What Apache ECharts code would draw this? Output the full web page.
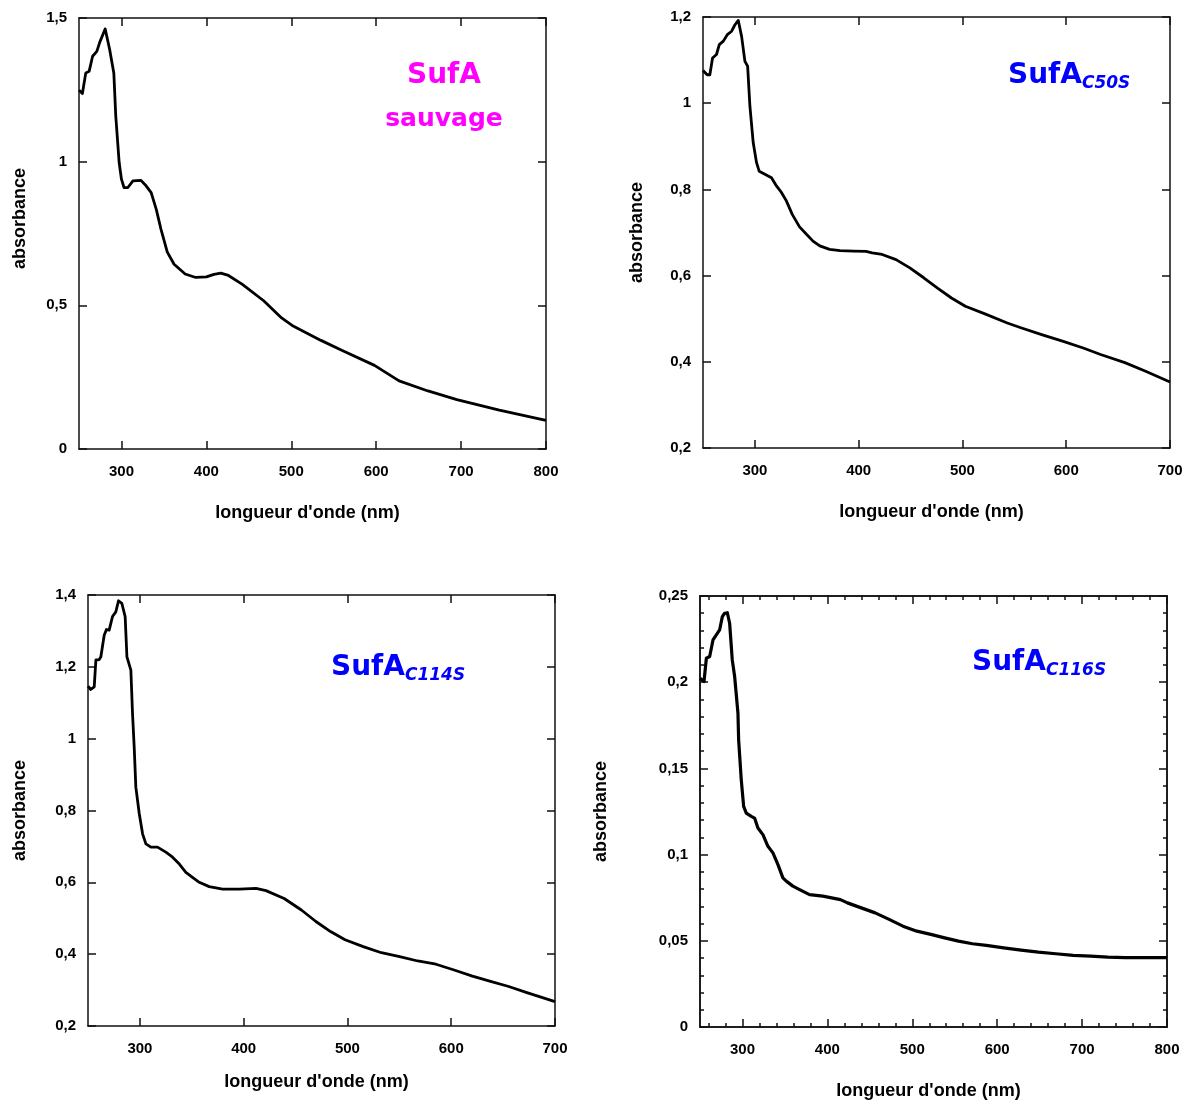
<!DOCTYPE html>
<html><head><meta charset="utf-8">
<script src="https://cdn.jsdelivr.net/npm/echarts@6/dist/echarts.min.js"></script>
<style>html,body{margin:0;padding:0;background:#fff}#c{width:1184px;height:1101px}</style>
</head><body><div id="c"></div>
<script>
// ---- data ----
const wl1 = [250,254,258,262,266,271,274.5,280.8,286,291,293.3,297.3,300,303,307.6,313.5,323,329,335,341,346.5,354,362,375,387.5,400,409,417,426,442,467.5,488.6,501,535,560,598,627,661,695,745,800];
const abs1 = [1.249,1.237,1.309,1.315,1.367,1.384,1.416,1.462,1.392,1.309,1.159,0.997,0.939,0.91,0.91,0.933,0.935,0.916,0.892,0.834,0.765,0.685,0.643,0.609,0.597,0.599,0.608,0.612,0.604,0.574,0.516,0.456,0.43,0.378,0.343,0.291,0.237,0.202,0.172,0.135,0.1];

const wl2 = [250,254,256.6,259.2,263,265.7,269.6,273.4,277.6,280.8,284,287.2,290.4,293,295.2,298.4,301.6,304.2,309.6,316,320.8,325,330,336,343,349.7,356,362.5,372,382,395,407,413,422.6,436,449.3,462.7,476,489.4,502.8,522.9,543.2,556.3,576.3,596.4,616.4,633.1,656.5,676.5,700];
const abs2 = [1.076,1.066,1.066,1.105,1.113,1.136,1.144,1.159,1.167,1.182,1.192,1.155,1.097,1.086,0.993,0.908,0.862,0.842,0.835,0.827,0.808,0.795,0.775,0.742,0.713,0.696,0.68,0.669,0.661,0.658,0.657,0.656,0.653,0.649,0.637,0.618,0.595,0.571,0.548,0.529,0.51,0.49,0.479,0.463,0.448,0.432,0.417,0.398,0.378,0.353];

const wl3 = [250,252.7,256,257.6,260.8,262.4,265.6,267.8,270.4,273.6,276.8,279.4,282.6,285.8,287.5,291.3,292.9,294.5,296.1,299.4,302.6,305.8,310.6,317,325,331.5,338,344.3,350.7,357.2,366.8,379.7,395.8,411.9,421.5,439,455.6,469.6,483.7,497.7,515.2,532.7,550.3,567.8,585.3,602.8,620.4,637.9,655.4,672.9,700];
const abs3 = [1.146,1.137,1.144,1.219,1.22,1.228,1.288,1.304,1.302,1.34,1.353,1.384,1.377,1.34,1.228,1.191,1.07,0.977,0.865,0.791,0.735,0.707,0.698,0.698,0.684,0.67,0.651,0.628,0.614,0.6,0.588,0.581,0.581,0.583,0.577,0.555,0.523,0.491,0.463,0.44,0.421,0.404,0.393,0.381,0.372,0.356,0.339,0.324,0.31,0.293,0.268];

const wl4 = [250,254.7,257.5,261.4,265.3,269.2,273.1,276.3,279,282.2,284.9,288,290.8,294.7,295.5,298.6,301.4,304.5,310.4,314.3,318.2,324.1,330,335.9,341.8,347.6,351.6,359.4,367.3,379,394.7,415.4,423.6,439.9,456.3,472.7,489,505.4,521.8,538.1,554.5,570.9,587.2,607.7,628.1,648.6,669,689.5,710,730.4,750.9,771.3,800];
const abs4 = [0.2023,0.2004,0.2139,0.2149,0.2245,0.2274,0.2303,0.238,0.24,0.2403,0.2342,0.2129,0.2033,0.182,0.1666,0.1434,0.128,0.1241,0.1222,0.1212,0.1154,0.1116,0.1048,0.101,0.0942,0.0865,0.0846,0.0817,0.0797,0.0768,0.0759,0.0739,0.072,0.0691,0.0662,0.0624,0.0585,0.0556,0.0537,0.0517,0.0498,0.0483,0.0473,0.0459,0.0446,0.0434,0.0425,0.0415,0.0411,0.0405,0.0402,0.0402,0.0402];

// tick values
const xTicks1 = [300,400,500,600,700,800];
const yTicks1 = [0,0.5,1,1.5];
const xTicks2 = [300,400,500,600,700];
const yTicks2 = [0.2,0.4,0.6,0.8,1,1.2];
const xTicks3 = [300,400,500,600,700];
const yTicks3 = [0.2,0.4,0.6,0.8,1,1.2,1.4];
const xTicks4 = [300,400,500,600,700,800];
const yTicks4 = [0,0.05,0.1,0.15,0.2,0.25];
const xMinor4 = [260,280,320,340,360,380,420,440,460,480,520,540,560,580,620,640,660,680,720,740,760,780];
const yMinor4 = [0.01,0.02,0.03,0.04,0.06,0.07,0.08,0.09,0.11,0.12,0.13,0.14,0.16,0.17,0.18,0.19,0.21,0.22,0.23,0.24];

// texts
const xName = "longueur d'onde (nm)";
const yName = "absorbance";
const titles = [
  {main:'SufA', line2:'sauvage', sub:''},
  {main:'SufA', sub:'C50S'},
  {main:'SufA', sub:'C114S'},
  {main:'SufA', sub:'C116S'}
];

// ---- layout / style ----
const FONT = '"Liberation Sans", Arial, sans-serif';
const TFONT = '"Comic Sans MS", "DejaVu Sans", sans-serif';
const AX = '#111';
const grids = [
  {left:79, top:18, width:467, height:431},
  {left:703, top:17, width:467, height:431},
  {left:88, top:595, width:467, height:431},
  {left:700, top:596, width:467, height:431}
];
const panels = [
  {wl:wl1, ab:abs1, xr:[250,800], yr:[0,1.5], xt:xTicks1, yt:yTicks1, yGap:50, yPad:30, xGap:55},
  {wl:wl2, ab:abs2, xr:[250,700], yr:[0.2,1.2], xt:xTicks2, yt:yTicks2, yGap:57, yPad:0, xGap:55},
  {wl:wl3, ab:abs3, xr:[250,700], yr:[0.2,1.4], xt:xTicks3, yt:yTicks3, yGap:59, yPad:0, xGap:47},
  {wl:wl4, ab:abs4, xr:[250,800], yr:[0,0.25], xt:xTicks4, yt:yTicks4, yGap:90, yPad:0, xGap:55, xm:xMinor4, ym:yMinor4}
];

function fmt(v){ return String(+(+v).toFixed(3)).replace('.', ','); }

const xAxes = [], yAxes = [], series = [];
const lab = {show:true, color:'#000', fontSize:15, fontWeight:'bold', fontFamily:FONT, formatter:fmt};

function mkAxis(gi, pos, range, ticks, len, label, name, gap, pad, isX){
  const a = {
    type:'value', gridIndex:gi, position:pos, min:range[0], max:range[1],
    axisLine:{show:true, onZero:false, lineStyle:{color:AX, width:1.5}},
    axisTick:{show:true, inside:true, length:len, customValues:ticks, lineStyle:{color:AX, width:1.5}},
    axisLabel: label ? Object.assign({customValues:ticks, margin: isX?15:12}, lab) : {show:false},
    splitLine:{show:false}, minorTick:{show:false}, axisPointer:{show:false}
  };
  if (name) {
    a.name = name; a.nameLocation = 'middle'; a.nameGap = gap;
    a.nameTextStyle = {color:'#000', fontSize:18, fontWeight:'bold', fontFamily:FONT,
      padding: isX ? [0,10,0,0] : [0,0,0,pad]};
  }
  return a;
}

panels.forEach((p, gi) => {
  const xi = xAxes.length, yi = yAxes.length;
  xAxes.push(mkAxis(gi,'bottom',p.xr,p.xt,8,true,xName,p.xGap,0,true));
  xAxes.push(mkAxis(gi,'top',p.xr,p.xt,8,false));
  yAxes.push(mkAxis(gi,'left',p.yr,p.yt,8,true,yName,p.yGap,p.yPad,false));
  yAxes.push(mkAxis(gi,'right',p.yr,p.yt,8,false));
  if (p.xm) {
    xAxes.push(mkAxis(gi,'bottom',p.xr,p.xm,4,false));
    xAxes.push(mkAxis(gi,'top',p.xr,p.xm,4,false));
    yAxes.push(mkAxis(gi,'left',p.yr,p.ym,4,false));
    yAxes.push(mkAxis(gi,'right',p.yr,p.ym,4,false));
  }
  series.push({
    type:'line', xAxisIndex:xi, yAxisIndex:yi,
    data: p.wl.map((w,i)=>[w,p.ab[i]]),
    showSymbol:false, symbol:'none', smooth:false,
    lineStyle:{color:'#000', width: gi===3 ? 3.2 : 2.8, join:'round'},
    itemStyle:{color:'#000'}
  });
});

const tMain = {fontSize:28, fontWeight:'bold', fontFamily:TFONT, padding:[0,0,2,0], verticalAlign:'bottom'};
const tSub = {fontSize:17, fontWeight:'bold', fontStyle:'italic', fontFamily:TFONT, verticalAlign:'bottom'};
function subTitle(x, y, t, color){
  return {type:'text', x:x, y:y, silent:true, style:{
    text:'{a|' + t.main + '}{b|' + t.sub + '}', align:'left', verticalAlign:'bottom',
    rich:{a:Object.assign({fill:color}, tMain), b:Object.assign({fill:color}, tSub)}
  }};
}
const graphic = [
  {type:'text', x:444, y:76, silent:true, style:{text:titles[0].main, fill:'#ff00ff', align:'center', verticalAlign:'middle', font:'bold 28px ' + TFONT}},
  {type:'text', x:444, y:119, silent:true, style:{text:titles[0].line2, fill:'#ff00ff', align:'center', verticalAlign:'middle', font:'bold 25px ' + TFONT}},
  subTitle(1008, 92, titles[1], '#0000ff'),
  subTitle(331, 684, titles[2], '#0000ff'),
  subTitle(972, 679, titles[3], '#0000ff')
];

const chart = echarts.init(document.getElementById('c'), null, {renderer:'canvas'});
chart.setOption({
  animation:false,
  backgroundColor:'#fff',
  grid: grids.map(g => Object.assign({outerBoundsMode:'none', containLabel:false}, g)),
  xAxis: xAxes, yAxis: yAxes, series: series, graphic: graphic
});
</script></body></html>
